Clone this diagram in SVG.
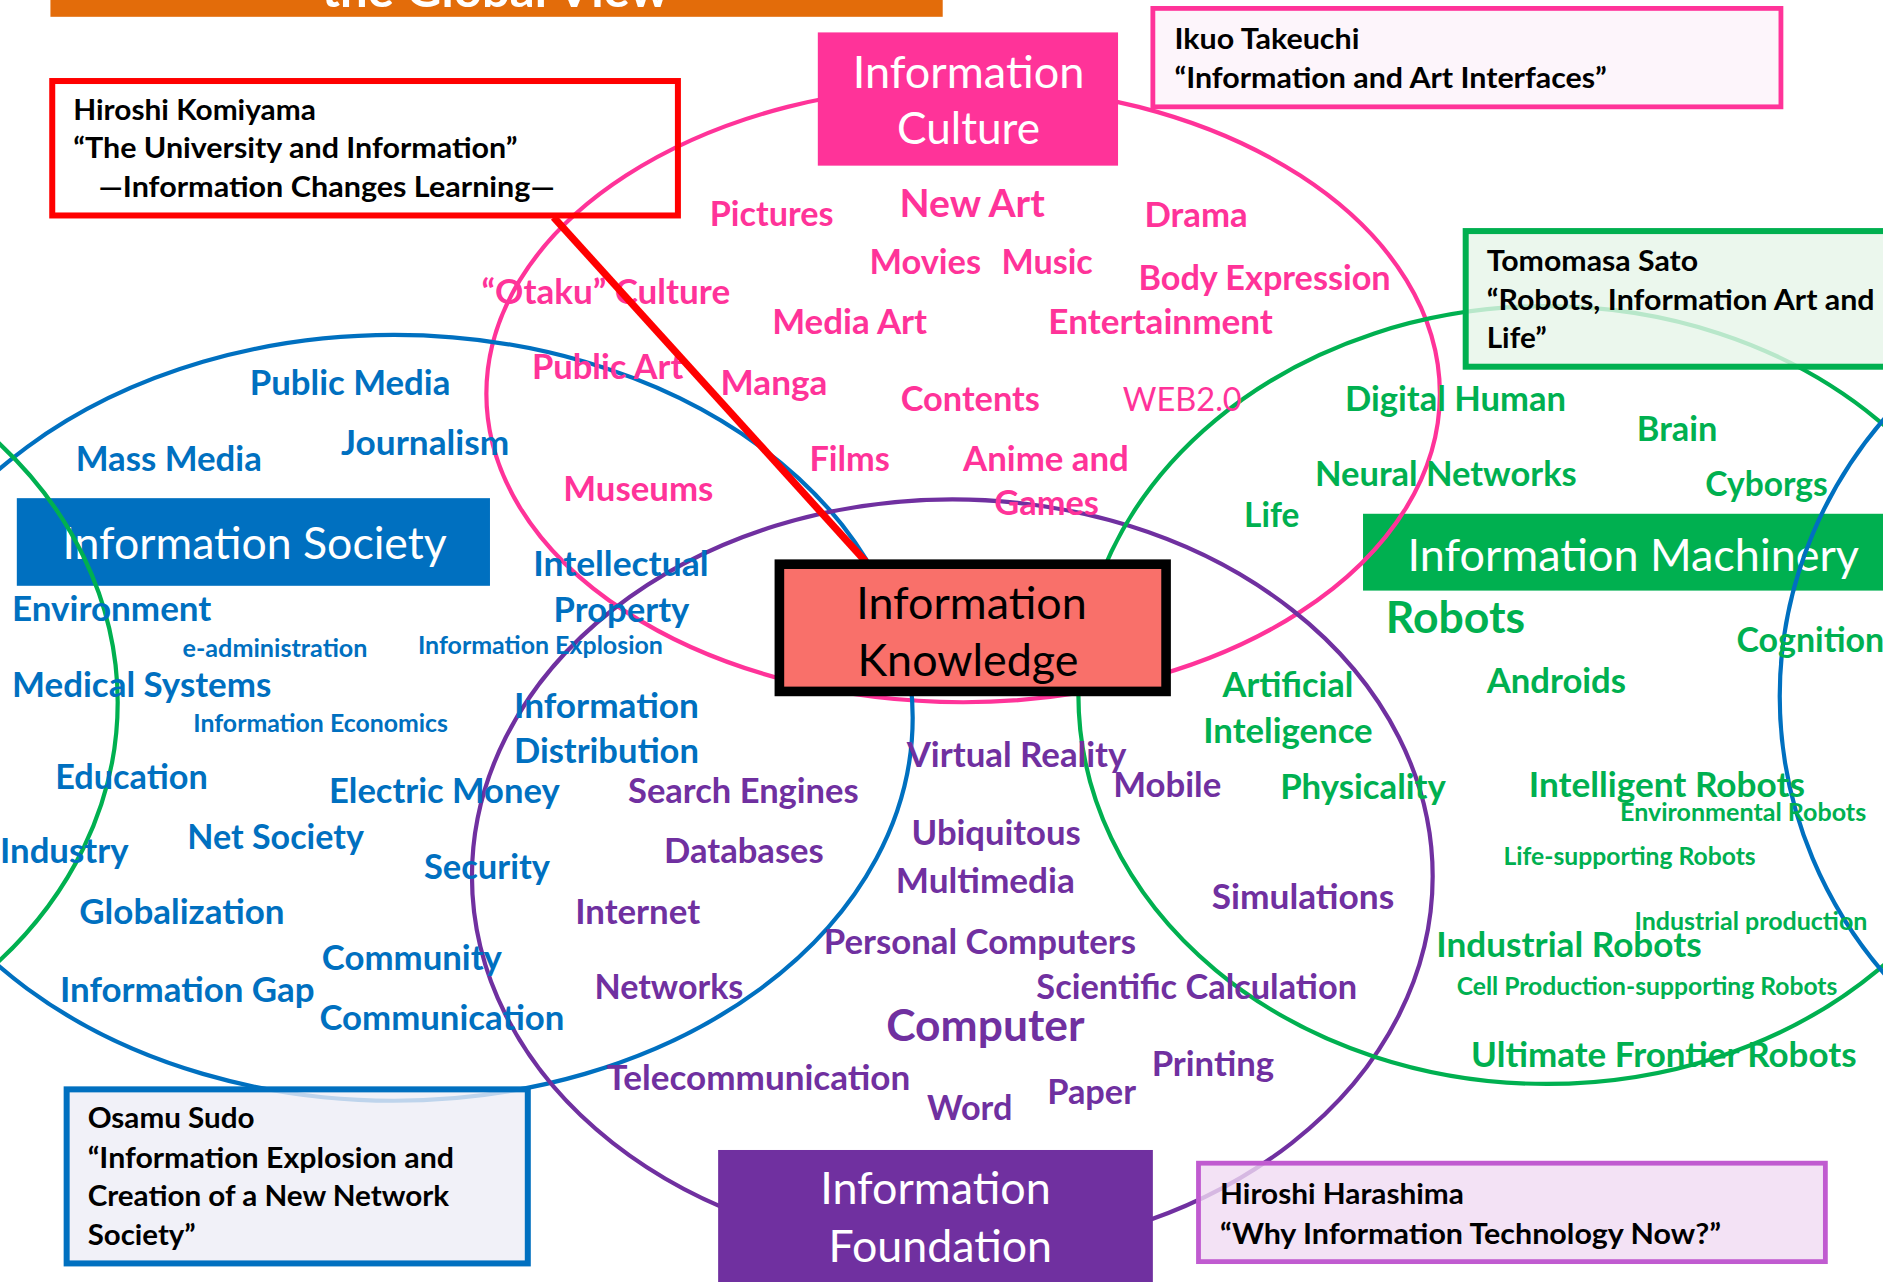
<svg xmlns="http://www.w3.org/2000/svg" width="1883" height="1282" viewBox="0 0 1883 1282">
<style>
text{font-family:Lato,"Liberation Sans",sans-serif;font-weight:bold}
.p{fill:#FF3399}.b{fill:#0070C0}.v{fill:#7030A0}.g{fill:#00B050}.k{fill:#000}.w{fill:#fff}
.s{font-size:28px}.sm{font-size:20px}.lg{font-size:36px}.au{font-size:23px}
.t{font-size:37px;font-weight:normal}
.reg{font-weight:normal}
.ell{fill:none;stroke-width:3.5}
.ab{stroke-width:5}
</style>
<rect x="0" y="0" width="1883" height="1282" fill="#fff"/>
<g transform="scale(1.2009 1.2004)">
<g id="header">
<rect x="42" y="-10" width="743" height="24" fill="#E36C0A"/>
<text x="268" y="6" class="w" font-size="40" textLength="289" lengthAdjust="spacingAndGlyphs">the Global View</text>
</g>
<g id="info-society">
<rect x="14" y="415" width="394" height="73" fill="#0070C0"/>
<text x="52" y="466" class="w t" textLength="320" lengthAdjust="spacingAndGlyphs">Information Society</text>
</g>
<g id="info-machinery">
<rect x="1135" y="428" width="445" height="64" fill="#00B050"/>
<text x="1172" y="476" class="w t" textLength="376" lengthAdjust="spacingAndGlyphs">Information Machinery</text>
</g>
<g id="sets">
<ellipse cx="802" cy="328" rx="397" ry="257" class="ell" stroke="#FF3399"/>
<ellipse cx="328" cy="598" rx="432" ry="319" class="ell" stroke="#0070C0"/>
<ellipse cx="793" cy="730" rx="400" ry="314" class="ell" stroke="#7030A0"/>
<ellipse cx="1288" cy="579" rx="390" ry="324" class="ell" stroke="#00B050"/>
<ellipse cx="-300" cy="585" rx="398" ry="327" class="ell" stroke="#00B050"/>
<ellipse cx="1872" cy="580" rx="390" ry="367" class="ell" stroke="#0070C0"/>
</g>
<g id="info-culture">
<rect x="681" y="27" width="250" height="111" fill="#FF3399"/>
<text x="710" y="73" class="w t" textLength="193" lengthAdjust="spacingAndGlyphs">Information</text>
<text x="747" y="120" class="w t" textLength="119" lengthAdjust="spacingAndGlyphs">Culture</text>
</g>
<g id="info-foundation">
<rect x="598" y="958" width="362" height="115" fill="#7030A0"/>
<text x="683" y="1003" class="w t" textLength="192" lengthAdjust="spacingAndGlyphs">Information</text>
<text x="690" y="1051" class="w t" textLength="186" lengthAdjust="spacingAndGlyphs">Foundation</text>
</g>
<g id="komiyama">
<rect x="43.5" y="67.5" width="521" height="112" fill="#fff" fill-opacity="0" stroke="#FF0000" class="ab"/>
<text x="61" y="100" class="k au" textLength="202" lengthAdjust="spacingAndGlyphs">Hiroshi Komiyama</text>
<text x="61" y="132" class="k au" textLength="370" lengthAdjust="spacingAndGlyphs">“The University and Information”</text>
<text x="82" y="164" class="k au" textLength="380" lengthAdjust="spacingAndGlyphs">—Information Changes Learning—</text>
</g>
<g id="takeuchi">
<rect x="960" y="7" width="523" height="82" fill="#FDF3FA" fill-opacity="0.85" stroke="#FF3399" stroke-width="4"/>
<text x="978" y="41" class="k au" textLength="154" lengthAdjust="spacingAndGlyphs">Ikuo Takeuchi</text>
<text x="978" y="73" class="k au" textLength="360" lengthAdjust="spacingAndGlyphs">“Information and Art Interfaces”</text>
</g>
<g id="sato">
<rect x="1220.5" y="192.5" width="400" height="113" fill="#E6F5E9" fill-opacity="0.8" stroke="#00B050" class="ab"/>
<text x="1238" y="226" class="k au" textLength="176" lengthAdjust="spacingAndGlyphs">Tomomasa Sato</text>
<text x="1238" y="258" class="k au" textLength="323" lengthAdjust="spacingAndGlyphs">“Robots, Information Art and</text>
<text x="1238" y="290" class="k au" textLength="50" lengthAdjust="spacingAndGlyphs">Life”</text>
</g>
<g id="sudo">
<rect x="55.5" y="907.5" width="384" height="145" fill="#EDEDF6" fill-opacity="0.8" stroke="#0070C0" class="ab"/>
<text x="73" y="940" class="k au" textLength="139" lengthAdjust="spacingAndGlyphs">Osamu Sudo</text>
<text x="73" y="973" class="k au" textLength="305" lengthAdjust="spacingAndGlyphs">“Information Explosion and</text>
<text x="73" y="1005" class="k au" textLength="301" lengthAdjust="spacingAndGlyphs">Creation of a New Network</text>
<text x="73" y="1037" class="k au" textLength="90" lengthAdjust="spacingAndGlyphs">Society”</text>
</g>
<g id="harashima">
<rect x="998" y="969" width="522" height="82" fill="#F0DBF3" fill-opacity="0.8" stroke="#C05BD0" stroke-width="4"/>
<text x="1016" y="1003" class="k au" textLength="203" lengthAdjust="spacingAndGlyphs">Hiroshi Harashima</text>
<text x="1016" y="1036" class="k au" textLength="417" lengthAdjust="spacingAndGlyphs">“Why Information Technology Now?”</text>
</g>
<g id="culture-items" class="p s">
<text x="591" y="188" textLength="103" lengthAdjust="spacingAndGlyphs">Pictures</text>
<text x="749" y="181" font-size="32" textLength="121" lengthAdjust="spacingAndGlyphs">New Art</text>
<text x="953" y="189" textLength="86" lengthAdjust="spacingAndGlyphs">Drama</text>
<text x="724" y="228" textLength="93" lengthAdjust="spacingAndGlyphs">Movies</text>
<text x="834" y="228" textLength="76" lengthAdjust="spacingAndGlyphs">Music</text>
<text x="948" y="242" textLength="210" lengthAdjust="spacingAndGlyphs">Body Expression</text>
<text x="401" y="253" textLength="207" lengthAdjust="spacingAndGlyphs">“Otaku” Culture</text>
<text x="643" y="278" textLength="129" lengthAdjust="spacingAndGlyphs">Media Art</text>
<text x="873" y="278" textLength="187" lengthAdjust="spacingAndGlyphs">Entertainment</text>
<text x="443" y="316" textLength="126" lengthAdjust="spacingAndGlyphs">Public Art</text>
<text x="600" y="329" textLength="89" lengthAdjust="spacingAndGlyphs">Manga</text>
<text x="750" y="342" textLength="116" lengthAdjust="spacingAndGlyphs">Contents</text>
<text x="935" y="342" class="reg" textLength="99" lengthAdjust="spacingAndGlyphs">WEB2.0</text>
<text x="674" y="392" textLength="67" lengthAdjust="spacingAndGlyphs">Films</text>
<text x="802" y="392" textLength="138" lengthAdjust="spacingAndGlyphs">Anime and</text>
<text x="828" y="429" textLength="87" lengthAdjust="spacingAndGlyphs">Games</text>
<text x="469" y="417" textLength="125" lengthAdjust="spacingAndGlyphs">Museums</text>
</g>
<g id="society-items" class="b s">
<text x="208" y="329" textLength="167" lengthAdjust="spacingAndGlyphs">Public Media</text>
<text x="284" y="379" textLength="140" lengthAdjust="spacingAndGlyphs">Journalism</text>
<text x="63" y="392" textLength="155" lengthAdjust="spacingAndGlyphs">Mass Media</text>
<text x="10" y="517" textLength="166" lengthAdjust="spacingAndGlyphs">Environment</text>
<text x="152" y="547" class="sm" textLength="154" lengthAdjust="spacingAndGlyphs">e-administration</text>
<text x="348" y="545" class="sm" textLength="204" lengthAdjust="spacingAndGlyphs">Information Explosion</text>
<text x="10" y="581" textLength="216" lengthAdjust="spacingAndGlyphs">Medical Systems</text>
<text x="161" y="610" class="sm" textLength="212" lengthAdjust="spacingAndGlyphs">Information Economics</text>
<text x="444" y="480" textLength="146" lengthAdjust="spacingAndGlyphs">Intellectual</text>
<text x="461" y="518" textLength="113" lengthAdjust="spacingAndGlyphs">Property</text>
<text x="428" y="598" textLength="154" lengthAdjust="spacingAndGlyphs">Information</text>
<text x="428" y="636" textLength="154" lengthAdjust="spacingAndGlyphs">Distribution</text>
<text x="46" y="657" textLength="127" lengthAdjust="spacingAndGlyphs">Education</text>
<text x="274" y="669" textLength="192" lengthAdjust="spacingAndGlyphs">Electric Money</text>
<text x="0" y="719" textLength="107" lengthAdjust="spacingAndGlyphs">Industry</text>
<text x="156" y="707" textLength="147" lengthAdjust="spacingAndGlyphs">Net Society</text>
<text x="353" y="732" textLength="105" lengthAdjust="spacingAndGlyphs">Security</text>
<text x="66" y="770" textLength="171" lengthAdjust="spacingAndGlyphs">Globalization</text>
<text x="268" y="808" textLength="150" lengthAdjust="spacingAndGlyphs">Community</text>
<text x="50" y="835" textLength="212" lengthAdjust="spacingAndGlyphs">Information Gap</text>
<text x="266" y="858" textLength="204" lengthAdjust="spacingAndGlyphs">Communication</text>
</g>
<g id="foundation-items" class="v s">
<text x="523" y="669" textLength="192" lengthAdjust="spacingAndGlyphs">Search Engines</text>
<text x="553" y="719" textLength="133" lengthAdjust="spacingAndGlyphs">Databases</text>
<text x="479" y="770" textLength="104" lengthAdjust="spacingAndGlyphs">Internet</text>
<text x="495" y="832" textLength="124" lengthAdjust="spacingAndGlyphs">Networks</text>
<text x="505" y="908" textLength="253" lengthAdjust="spacingAndGlyphs">Telecommunication</text>
<text x="755" y="639" textLength="183" lengthAdjust="spacingAndGlyphs">Virtual Reality</text>
<text x="927" y="664" textLength="90" lengthAdjust="spacingAndGlyphs">Mobile</text>
<text x="759" y="704" textLength="141" lengthAdjust="spacingAndGlyphs">Ubiquitous</text>
<text x="746" y="744" textLength="149" lengthAdjust="spacingAndGlyphs">Multimedia</text>
<text x="686" y="795" textLength="260" lengthAdjust="spacingAndGlyphs">Personal Computers</text>
<text x="1009" y="757" textLength="152" lengthAdjust="spacingAndGlyphs">Simulations</text>
<text x="863" y="832" textLength="267" lengthAdjust="spacingAndGlyphs">Scientific Calculation</text>
<text x="738" y="867" class="lg" textLength="165" lengthAdjust="spacingAndGlyphs">Computer</text>
<text x="959" y="896" textLength="102" lengthAdjust="spacingAndGlyphs">Printing</text>
<text x="872" y="920" textLength="74" lengthAdjust="spacingAndGlyphs">Paper</text>
<text x="772" y="933" textLength="71" lengthAdjust="spacingAndGlyphs">Word</text>
</g>
<g id="machinery-items" class="g s">
<text x="1120" y="342" textLength="184" lengthAdjust="spacingAndGlyphs">Digital Human</text>
<text x="1363" y="367" textLength="67" lengthAdjust="spacingAndGlyphs">Brain</text>
<text x="1095" y="405" textLength="218" lengthAdjust="spacingAndGlyphs">Neural Networks</text>
<text x="1420" y="413" textLength="102" lengthAdjust="spacingAndGlyphs">Cyborgs</text>
<text x="1036" y="439" textLength="46" lengthAdjust="spacingAndGlyphs">Life</text>
<text x="1154" y="527" class="lg" textLength="116" lengthAdjust="spacingAndGlyphs">Robots</text>
<text x="1446" y="543" textLength="123" lengthAdjust="spacingAndGlyphs">Cognition</text>
<text x="1238" y="577" textLength="116" lengthAdjust="spacingAndGlyphs">Androids</text>
<text x="1018" y="581" textLength="109" lengthAdjust="spacingAndGlyphs">Artificial</text>
<text x="1002" y="619" textLength="141" lengthAdjust="spacingAndGlyphs">Inteligence</text>
<text x="1066" y="666" textLength="138" lengthAdjust="spacingAndGlyphs">Physicality</text>
<text x="1273" y="664" textLength="230" lengthAdjust="spacingAndGlyphs">Intelligent Robots</text>
<text x="1349" y="684" class="sm" textLength="205" lengthAdjust="spacingAndGlyphs">Environmental Robots</text>
<text x="1252" y="721" class="sm" textLength="210" lengthAdjust="spacingAndGlyphs">Life-supporting Robots</text>
<text x="1361" y="775" class="sm" textLength="194" lengthAdjust="spacingAndGlyphs">Industrial production</text>
<text x="1196" y="797" textLength="221" lengthAdjust="spacingAndGlyphs">Industrial Robots</text>
<text x="1213" y="829" class="sm" textLength="317" lengthAdjust="spacingAndGlyphs">Cell Production-supporting Robots</text>
<text x="1225" y="889" textLength="321" lengthAdjust="spacingAndGlyphs">Ultimate Frontier Robots</text>
</g>
<g id="connectors">
<line x1="461" y1="181" x2="721" y2="468" stroke="#FF0000" stroke-width="6"/>
</g>
<g id="info-knowledge">
<rect x="649" y="470" width="322" height="106" fill="#F9706A" stroke="#000" stroke-width="8"/>
<text x="713" y="516" class="k t" textLength="192" lengthAdjust="spacingAndGlyphs">Information</text>
<text x="714" y="563" class="k t" textLength="184" lengthAdjust="spacingAndGlyphs">Knowledge</text>
</g>
</g>
</svg>
